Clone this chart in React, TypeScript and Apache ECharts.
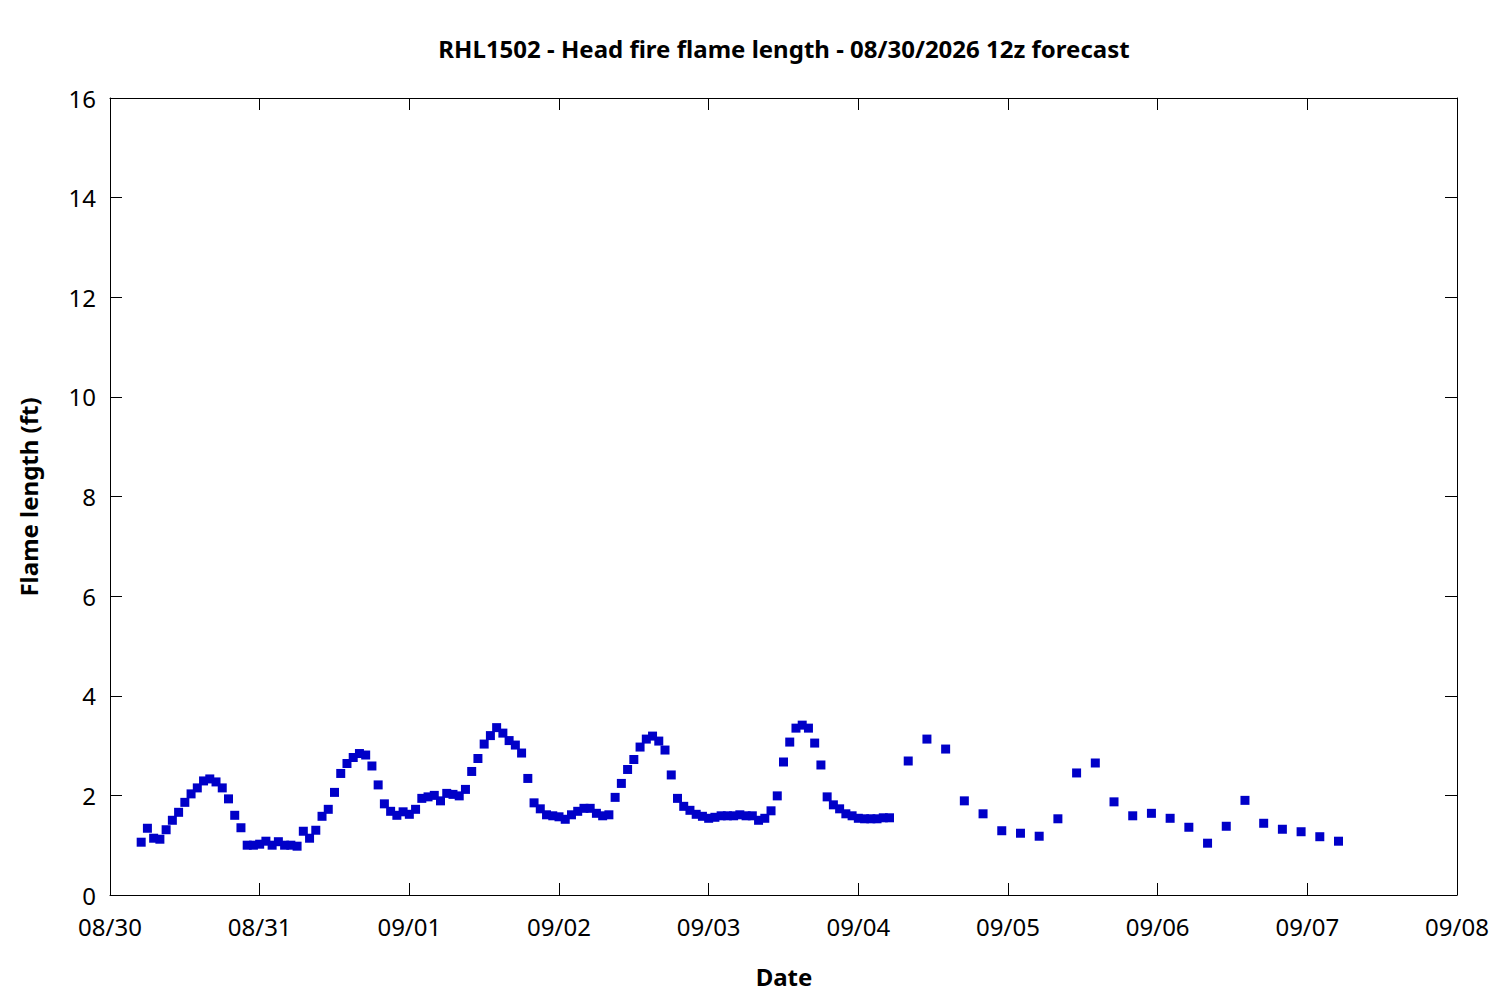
import React, { useEffect, useRef } from "react";
import * as echarts from "echarts";

// Hours are counted from 08/30 00:00
const xTickLabels = ["08/30", "08/31", "09/01", "09/02", "09/03", "09/04", "09/05", "09/06", "09/07", "09/08"];
const yTicks = [0, 2, 4, 6, 8, 10, 12, 14, 16];

// Hourly forecast: 08/30 05:00 .. 09/04 05:00
const hourlyStartHour = 5;
const hourlyStepHours = 1;
const hourlyValues = [
  1.06, 1.34, 1.14, 1.12, 1.31, 1.5, 1.66, 1.86, 2.03, 2.15, 2.29, 2.33, 2.27, 2.15, 1.93, 1.6, 1.35, 1.0, 1.0,
  1.02, 1.08, 1.0, 1.07, 1.0, 1.0, 0.98, 1.28, 1.14, 1.3, 1.58, 1.72, 2.06, 2.44, 2.64, 2.76, 2.84, 2.81, 2.59, 2.21, 1.83, 1.68, 1.6, 1.67,
  1.62, 1.72, 1.94, 1.97, 2.0, 1.89, 2.04, 2.02, 1.99, 2.12, 2.48, 2.74, 3.03, 3.2, 3.36, 3.25, 3.1, 3.01, 2.85, 2.34, 1.85, 1.73, 1.61, 1.59,
  1.57, 1.52, 1.61, 1.68, 1.74, 1.74, 1.64, 1.59, 1.61, 1.96, 2.24, 2.52, 2.72, 2.97, 3.13, 3.19, 3.09, 2.91, 2.41, 1.94, 1.78, 1.7, 1.62, 1.58,
  1.54, 1.56, 1.59, 1.59, 1.59, 1.61, 1.59, 1.59, 1.5, 1.54, 1.69, 1.99, 2.67, 3.07, 3.35, 3.41, 3.35, 3.05, 2.61, 1.97, 1.81, 1.73, 1.63, 1.59,
  1.54, 1.53, 1.53, 1.53, 1.55, 1.55,
];

// 3-hourly forecast: 09/04 08:00 .. 09/07 05:00
const threeHourlyStartHour = 128;
const threeHourlyStepHours = 3;
const threeHourlyValues = [
  2.69, 3.13, 2.93, 1.89, 1.63, 1.29, 1.24, 1.18, 1.53, 2.45, 2.65, 1.87, 1.59, 1.64, 1.54, 1.36, 1.04, 1.38, 1.9, 1.44,
  1.32, 1.27, 1.17, 1.08,
];

const FONT = "'Noto Sans', 'Open Sans', sans-serif";

export default function App() {
  const ref = useRef<HTMLDivElement>(null);

  useEffect(() => {
    if (!ref.current) return;
    const chart = echarts.init(ref.current, undefined, { renderer: "svg" });

    const points: [number, number][] = [];
    hourlyValues.forEach((v, i) => points.push([hourlyStartHour + i * hourlyStepHours, v]));
    threeHourlyValues.forEach((v, i) => points.push([threeHourlyStartHour + i * threeHourlyStepHours, v]));

    const xMax = (xTickLabels.length - 1) * 24;
    const yMin = yTicks[0];
    const yMax = yTicks[yTicks.length - 1];
    const yInterval = yTicks[1] - yTicks[0];

    const baseX = {
      type: "value" as const,
      min: 0,
      max: xMax,
      interval: 24,
      splitLine: { show: false },
      axisLine: { show: true, onZero: false, lineStyle: { color: "#000", width: 1 } },
      axisTick: { show: true, inside: true, length: 12, lineStyle: { color: "#000", width: 1 } },
    };
    const baseY = {
      type: "value" as const,
      min: yMin,
      max: yMax,
      interval: yInterval,
      splitLine: { show: false },
      axisLine: { show: true, onZero: false, lineStyle: { color: "#000", width: 1 } },
      axisTick: { show: true, inside: true, length: 12, lineStyle: { color: "#000", width: 1 } },
    };

    chart.setOption({
      animation: false,
      backgroundColor: "#fff",
      textStyle: { fontFamily: FONT },
      grid: { left: 110, right: 43, top: 98, bottom: 105, containLabel: false },
      xAxis: [
        {
          ...baseX,
          position: "bottom",
          axisLabel: {
            show: true,
            margin: 19,
            color: "#000",
            fontSize: 24,
            fontFamily: FONT,
            formatter: (v: number) => xTickLabels[Math.round(v / 24)] ?? "",
          },
        },
        { ...baseX, position: "top", axisLabel: { show: false } },
      ],
      yAxis: [
        {
          ...baseY,
          position: "left",
          axisLabel: { show: true, margin: 14, color: "#000", fontSize: 24, fontFamily: FONT },
        },
        { ...baseY, position: "right", axisLabel: { show: false } },
      ],
      graphic: [
        {
          type: "text",
          x: 784,
          y: 48,
          style: {
            text: "RHL1502 - Head fire flame length - 08/30/2026 12z forecast",
            fontSize: 24,
            fontWeight: "bold",
            fontFamily: FONT,
            fill: "#000",
            align: "center",
            verticalAlign: "middle",
          },
        },
        {
          type: "text",
          x: 784,
          y: 976,
          style: {
            text: "Date",
            fontSize: 24,
            fontWeight: "bold",
            fontFamily: FONT,
            fill: "#000",
            align: "center",
            verticalAlign: "middle",
          },
        },
        {
          type: "text",
          x: 28,
          y: 497,
          rotation: Math.PI / 2,
          style: {
            text: "Flame length (ft)",
            fontSize: 24,
            fontWeight: "bold",
            fontFamily: FONT,
            fill: "#000",
            align: "center",
            verticalAlign: "middle",
          },
        },
      ],
      series: [
        {
          type: "scatter",
          xAxisIndex: 0,
          yAxisIndex: 0,
          data: points,
          symbol: "rect",
          symbolSize: 9,
          itemStyle: { color: "#0000c8", opacity: 1 },
        },
      ],
    });

    return () => chart.dispose();
  }, []);

  return (
    <div
      ref={ref}
      style={{ position: "absolute", left: 0, top: 0, width: 1500, height: 1000, background: "#fff" }}
    />
  );
}
